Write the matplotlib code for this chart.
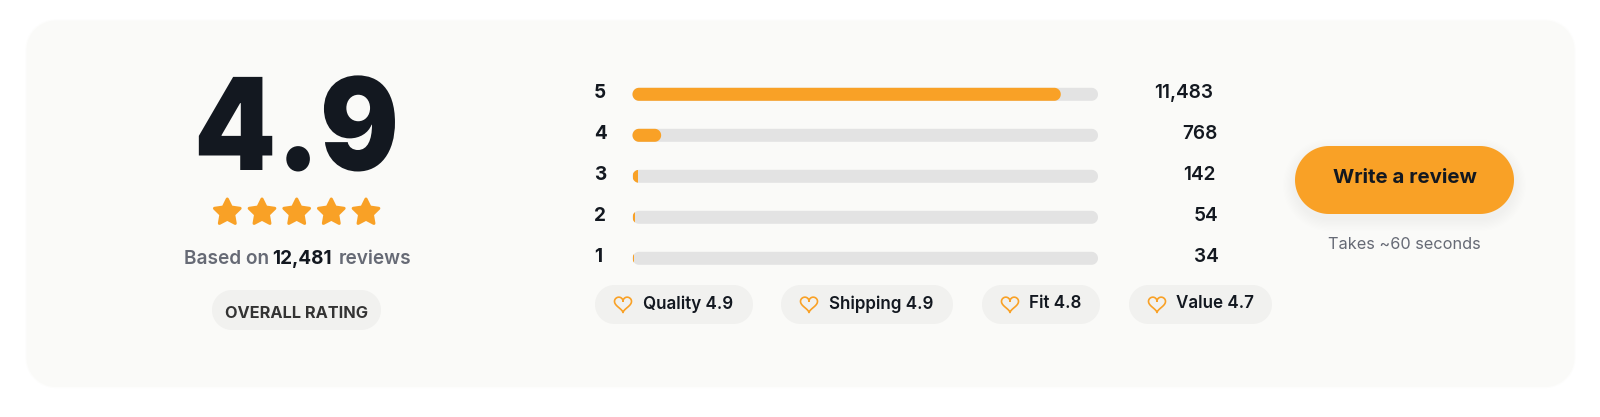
import numpy as np
import matplotlib
matplotlib.use('Agg')
import matplotlib.pyplot as plt
from matplotlib.patches import Rectangle, Polygon
from matplotlib.patheffects import AbstractPathEffect
from matplotlib.transforms import Affine2D

# data
overall_rating = '4.9'
total_reviews = '12,481'
star_levels = [5, 4, 3, 2, 1]
star_counts = [11483, 768, 142, 54, 34]
count_labels = ['11,483', '768', '142', '54', '34']
chip_labels = ['Quality 4.9', 'Shipping 4.9', 'Fit 4.8', 'Value 4.7']

ORANGE = '#F9A126'
INK = '#131820'
GREY = '#666A75'
CHIP = '#F1F1EF'
TRACK = '#E3E3E3'

plt.rcParams['font.family'] = ['Inter', 'DejaVu Sans']

fig = plt.figure(figsize=(16, 4.17), dpi=100, facecolor='white')
ax = fig.add_axes([0, 0, 1, 1])
ax.set_xlim(0, 1600)
ax.set_ylim(417, 0)
ax.axis('off')


class Squeeze(AbstractPathEffect):
    # the big number has tight tracking, squeeze the glyphs sideways around its centre
    def __init__(self, cx, sx):
        super().__init__()
        self.cx = cx
        self.sx = sx

    def draw_path(self, renderer, gc, tpath, affine, rgbFace=None):
        squeezed = affine + Affine2D().translate(-self.cx, 0).scale(self.sx, 1).translate(self.cx, 0)
        renderer.draw_path(gc, tpath, squeezed, rgbFace)


def px(size):
    return size * 0.72


def pill(x0, y0, x1, y1, color, radius=None, **kw):
    r = (y1 - y0) / 2 if radius is None else radius
    t = np.linspace(0, np.pi / 2, 24)
    corners = [(x1 - r, y0 + r, -np.pi / 2), (x1 - r, y1 - r, 0), (x0 + r, y1 - r, np.pi / 2), (x0 + r, y0 + r, np.pi)]
    pts = np.vstack([np.column_stack([cx + r * np.cos(t + a), cy + r * np.sin(t + a)]) for cx, cy, a in corners])
    kw.setdefault('ec', 'none')
    p = Polygon(pts, closed=True, fc=color, **kw)
    ax.add_patch(p)
    return p


def shadow(x0, y0, x1, y1, radius, spread, dy, alpha):
    for s in np.linspace(spread, 1, 10):
        pill(x0 - s, y0 - s + dy, x1 + s, y1 + s + dy, 'black', radius=radius + s, alpha=alpha)


def star(cx, cy, r):
    ang = np.arange(10) * np.pi / 5 - np.pi / 2
    rad = np.where(np.arange(10) % 2 == 0, r, r * 0.5)
    pts = np.column_stack([cx + rad * np.cos(ang), cy + rad * np.sin(ang)])
    ax.add_patch(Polygon(pts, closed=True, fc=ORANGE, ec=ORANGE, lw=2.2, joinstyle='round'))


def heart(cx, cy, size):
    t = np.linspace(0, 2 * np.pi, 120)
    x = 16 * np.sin(t) ** 3
    y = 13 * np.cos(t) - 5 * np.cos(2 * t) - 2 * np.cos(3 * t) - np.cos(4 * t)
    ax.plot(cx + x * size / 32, cy - y * size / 32, color=ORANGE, lw=1.2)


# card
shadow(26, 20, 1575, 387.5, 28, 20, 5, 0.0012)
pill(26, 20, 1575, 387.5, '#FAFAF8', radius=30, ec='#FDFDFC', lw=0.8)

# left block
ax.text(296.5, 170, overall_rating, fontsize=px(128), fontweight='black', color=INK, ha='center', va='baseline',
        path_effects=[Squeeze(296.5, 0.915)])
for cx in [227.3, 262, 296.7, 331.3, 366]:
    star(cx, 212.5, 13.5)
ax.text(184, 264, 'Based on', fontsize=px(19), fontweight='semibold', color=GREY, va='baseline')
ax.text(272.5, 264, total_reviews, fontsize=px(19), fontweight='bold', color=INK, va='baseline')
ax.text(338.5, 264, 'reviews', fontsize=px(19), fontweight='semibold', color=GREY, va='baseline')
pill(212, 290, 381, 330, CHIP)
ax.text(296.5, 317.5, 'OVERALL RATING', fontsize=px(16.3), fontweight='bold', color='#333333', ha='center', va='baseline')

# rating rows
track_x0, track_x1 = 632.5, 1098
bar_h = 13
row_y = [94.3, 135.3, 176.3, 217.3, 258.3]
count_right = [1213, 1217.5, 1216, 1218.5, 1218.5]
total = sum(star_counts)
for level, count, label, y, right in zip(star_levels, star_counts, count_labels, row_y, count_right):
    ax.text(594, y - 1, str(level), fontsize=px(19), fontweight='bold', color=INK, va='center')
    track = pill(track_x0, y - bar_h / 2, track_x1, y + bar_h / 2, TRACK)
    w = (track_x1 - track_x0) * count / total
    if w > bar_h:
        fill = pill(track_x0, y - bar_h / 2, track_x0 + w, y + bar_h / 2, ORANGE)
    else:
        fill = Rectangle((track_x0, y - bar_h / 2), w, bar_h, fc=ORANGE, ec='none')
        ax.add_patch(fill)
        fill.set_clip_path(track)
    ax.text(right, y - 1, label, fontsize=px(19), fontweight='semibold', color=INK, ha='right', va='center')

# chips
chip_x = [(595, 753), (781, 953), (982, 1100), (1129, 1272)]
heart_x = [623, 809, 1010, 1157]
text_x = [643, 829, 1029, 1176]
for label, (x0, x1), hx, tx in zip(chip_labels, chip_x, heart_x, text_x):
    pill(x0, 285, x1, 324, CHIP)
    heart(hx, 303.5, 17)
    ax.text(tx, 304, label, fontsize=px(17), fontweight='semibold', color=INK, va='center')

# button
shadow(1295, 146, 1514, 214, 34, 12, 5, 0.002)
pill(1295, 146, 1514, 214, ORANGE)
ax.text(1404.5, 177.5, 'Write a review', fontsize=px(20.5), fontweight='bold', color=INK, ha='center', va='center')
ax.text(1404.5, 244, 'Takes ~60 seconds', fontsize=px(16.3), color=GREY, ha='center', va='center')

fig.savefig('out.png', dpi=100, facecolor='white')
